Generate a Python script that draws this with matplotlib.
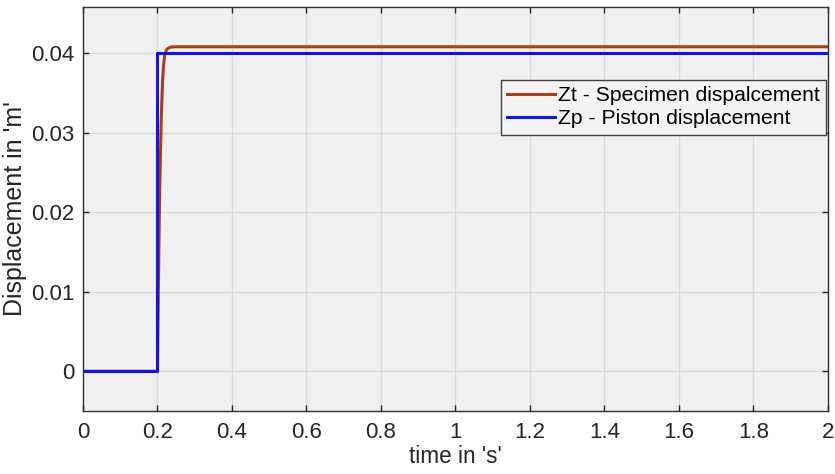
import matplotlib
matplotlib.use("Agg")
import matplotlib.pyplot as plt

# ── data ─────────────────────────────────────────────────────────────────
t_specimen = [0.0, 0.2, 0.202, 0.204, 0.206, 0.208, 0.210, 0.212, 0.214, 0.216,
              0.218, 0.220, 0.224, 0.228, 0.235, 0.245, 0.26, 2.0]
z_specimen = [0.0, 0.0, 0.0090, 0.0165, 0.0230, 0.0275, 0.0315, 0.0345, 0.0368,
              0.0383, 0.0393, 0.0399, 0.0404, 0.0406, 0.04075, 0.0408, 0.0408, 0.0408]

t_piston = [0.0, 0.2, 0.2, 2.0]
z_piston = [0.0, 0.0, 0.04, 0.04]

xticks = [0, 0.2, 0.4, 0.6, 0.8, 1.0, 1.2, 1.4, 1.6, 1.8, 2.0]
xticklabels = ["0", "0.2", "0.4", "0.6", "0.8", "1", "1.2", "1.4", "1.6", "1.8", "2"]
yticks = [0, 0.01, 0.02, 0.03, 0.04]
yticklabels = ["0", "0.01", "0.02", "0.03", "0.04"]

plt.rcParams["font.family"] = ["Liberation Sans", "DejaVu Sans"]

fig = plt.figure(figsize=(8.35, 4.74), dpi=100)
ax = fig.add_axes([0.0994, 0.1329, 0.8922, 0.8523])
ax.set_facecolor("#f0f0f0")

ax.plot(t_specimen, z_specimen, color="#a3401a", lw=2.2, label="Zt - Specimen dispalcement")
ax.plot(t_piston, z_piston, color="#1414e6", lw=2.2, label="Zp - Piston displacement")

ax.set_xlim(0, 2)
ax.set_ylim(-0.005, 0.0458)
ax.set_xticks(xticks)
ax.set_xticklabels(xticklabels)
ax.set_yticks(yticks)
ax.set_yticklabels(yticklabels)
# MATLAB-style box: inward ticks on all four sides
ax.tick_params(direction="in", length=4, width=1, colors="#262626",
               labelsize=16, pad=8, top=True, right=True)
ax.tick_params(axis="y", pad=6)
ax.grid(True, color="#d8d8d8", lw=0.9)
ax.set_axisbelow(True)
for s in ax.spines.values():
    s.set_color("#303030")
    s.set_linewidth(1.0)

ax.set_xlabel("time in 's'", fontsize=16.3, color="#262626", labelpad=1)
ax.set_ylabel("Displacement in 'm'", fontsize=18, color="#262626", labelpad=3)

leg = ax.legend(loc="upper right", bbox_to_anchor=(0.997, 0.82), fontsize=15.2,
                frameon=True, fancybox=False, framealpha=1, borderaxespad=0,
                handlelength=2.3, handletextpad=0.1, borderpad=0.3,
                labelspacing=0.2)
leg.get_frame().set_facecolor("#f4f4f4")
leg.get_frame().set_edgecolor("#404040")
leg.get_frame().set_linewidth(1.0)

fig.savefig("out.png", dpi=100)
